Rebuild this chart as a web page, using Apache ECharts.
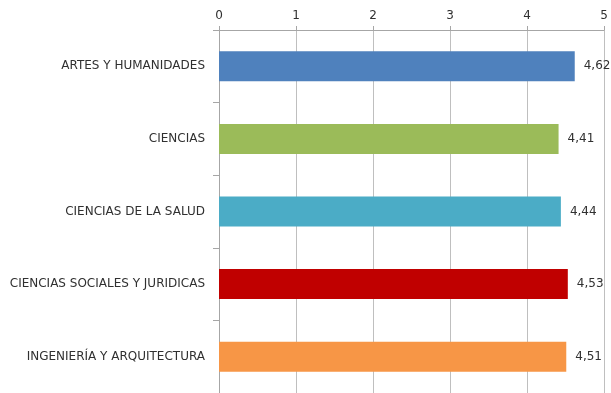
<!DOCTYPE html>
<html><head><meta charset="utf-8">
<script src="https://cdn.jsdelivr.net/npm/echarts@6/dist/echarts.min.js"></script>
<style>html,body{margin:0;padding:0;background:#fff}#c{width:611px;height:393px}</style>
</head><body><div id="c"></div>
<script>
const categories = ["ARTES Y HUMANIDADES","CIENCIAS","CIENCIAS DE LA SALUD","CIENCIAS SOCIALES Y JURIDICAS","INGENIERÍA Y ARQUITECTURA"];
const values = [4.62, 4.41, 4.44, 4.53, 4.51];
const colors = ["#4F81BD","#9BBB59","#4BACC6","#C00000","#F79646"];
const chart = echarts.init(document.getElementById('c'));
chart.setOption({
  animation:false,
  grid:{left:219,right:7,top:30,bottom:0,containLabel:false},
  xAxis:{type:'value',position:'top',min:0,max:5,interval:1,
    axisLine:{show:true,lineStyle:{color:'#A6A6A6'}},
    axisTick:{show:true,length:4,lineStyle:{color:'#A6A6A6'}},
    axisLabel:{color:'#303030',fontFamily:'DejaVu Sans',fontSize:12,margin:8},
    splitLine:{show:true,lineStyle:{color:'#BFBFBF',width:1}}},
  yAxis:{type:'category',data:categories,inverse:true,
    axisLine:{show:true,lineStyle:{color:'#A6A6A6'}},
    axisTick:{show:true,length:6,lineStyle:{color:'#A6A6A6'}},
    axisLabel:{color:'#303030',fontFamily:'DejaVu Sans',fontSize:12,margin:14}},
  series:[{type:'bar',data:values.map((v,i)=>({value:v,itemStyle:{color:colors[i]}})),
    barWidth:30,
    label:{show:true,position:'right',distance:9,color:'#303030',fontFamily:'DejaVu Sans',fontSize:12,
      formatter:p=>p.value.toFixed(2).replace('.',',')}}]
});
</script></body></html>
